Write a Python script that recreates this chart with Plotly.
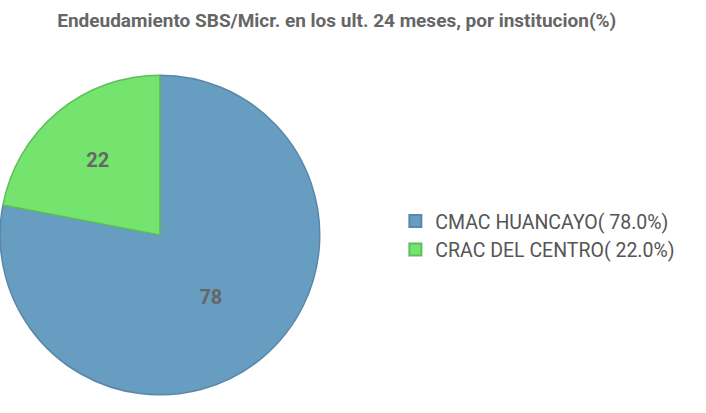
import plotly.graph_objects as go

categories = ["CMAC HUANCAYO", "CRAC DEL CENTRO"]
values = [78, 22]
legend_labels = [f"{c}( {v:.1f}%)" for c, v in zip(categories, values)]
colors = ["#679DC1", "#74E46E"]
line_colors = ["#5A87A8", "#5FBF5A"]

fig = go.Figure(go.Pie(
    labels=legend_labels,
    values=values,
    text=[str(v) for v in values],
    textinfo="text",
    textposition="inside",
    insidetextorientation="horizontal",
    textfont=dict(family="Roboto", size=20, color="#666666", weight="bold"),
    marker=dict(colors=colors, line=dict(color=line_colors, width=1.5)),
    sort=False,
    direction="clockwise",
    rotation=0,
    domain=dict(x=[0.0, 0.453], y=[0.044, 0.818]),
    hoverinfo="label",
))

fig.update_layout(
    width=706, height=413,
    margin=dict(l=0, r=0, t=0, b=0),
    paper_bgcolor="white",
    plot_bgcolor="white",
    title=dict(
        text="<b>Endeudamiento SBS/Micr. en los ult. 24 meses, por institucion(%)</b>",
        x=0.477, xanchor="center", y=0.95, yanchor="middle",
        font=dict(family="Roboto", size=19, color="#666666"),
    ),
    legend=dict(
        x=0.56, xanchor="left", y=0.43, yanchor="middle",
        font=dict(family="Roboto", size=19.5, color="#555555"),
        itemsizing="constant",
    ),
    showlegend=True,
)

fig.write_html("out.html", config={"displayModeBar": False},
               post_script="document.body.style.margin='0';")
